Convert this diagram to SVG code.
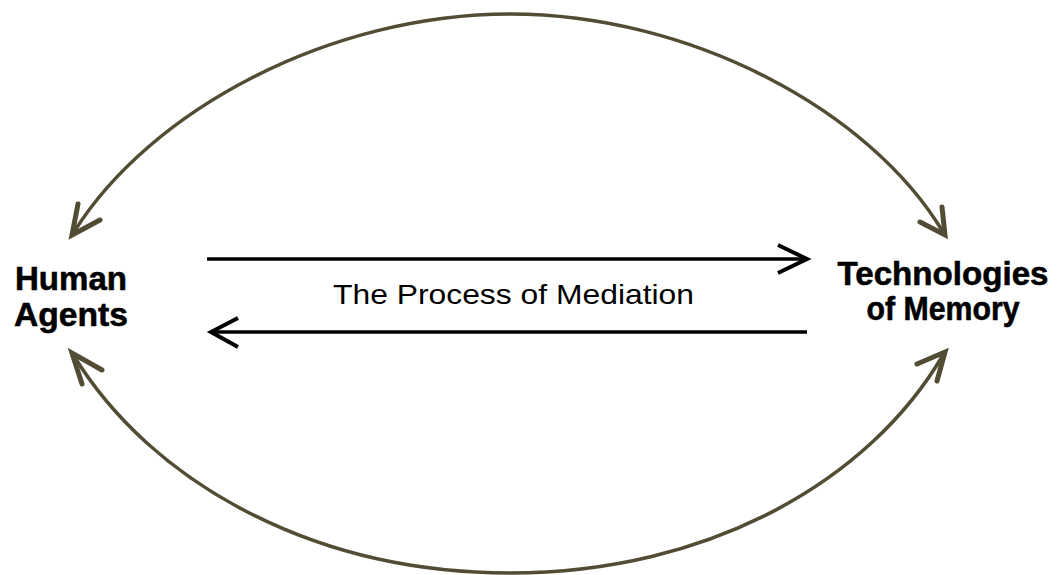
<svg xmlns="http://www.w3.org/2000/svg" width="1058" height="575" viewBox="0 0 1058 575">
<style>
.arc{fill:none;stroke:#514c33;stroke-width:3.5;stroke-linecap:round}
.ahead{fill:none;stroke:#514c33;stroke-width:5;stroke-linecap:round;stroke-linejoin:miter}
.line{fill:none;stroke:#000;stroke-width:3.5}
.head{fill:none;stroke:#000;stroke-width:4;stroke-linecap:butt;stroke-linejoin:miter}
.node{font-family:"Liberation Sans",Arial,sans-serif;font-weight:bold;font-size:34px;fill:#000;stroke:#000;stroke-width:0.6;text-anchor:middle}
.lbl{font-family:"Liberation Sans",Arial,sans-serif;font-size:28px;fill:#000}
</style>
<rect width="1058" height="575" fill="#fff"/>
<g id="connectors">
  <path class="arc" d="M74,232 C150,110 330,14 510,14 C690,14 870,110 943,232"/>
  <polyline class="ahead" points="78,204 72,235 100,220"/>
  <polyline class="ahead" points="920,222 945,235 942,207"/>
  <path class="arc" d="M74,356 C150,480 310,573 510,573 C710,573 870,480 943,355"/>
  <polyline class="ahead" points="102,370 72,353 82,384"/>
  <polyline class="ahead" points="917,364 945,352 937,381"/>
  <line class="line" x1="207" y1="259" x2="806" y2="259"/>
  <polyline class="head" points="778,245 807,259 778,273"/>
  <line class="line" x1="211" y1="332" x2="807" y2="332"/>
  <polyline class="head" points="238,318 211,332 238,347"/>
  <text class="lbl" x="333" y="304" textLength="361" lengthAdjust="spacingAndGlyphs">The Process of Mediation</text>
</g>
<g id="human-agents">
  <text class="node" x="71" y="290" textLength="112" lengthAdjust="spacingAndGlyphs">Human</text>
  <text class="node" x="71" y="326" textLength="114" lengthAdjust="spacingAndGlyphs">Agents</text>
</g>
<g id="technologies-of-memory">
  <text class="node" x="943" y="285" textLength="211" lengthAdjust="spacingAndGlyphs">Technologies</text>
  <text class="node" x="943" y="320" textLength="153" lengthAdjust="spacingAndGlyphs">of Memory</text>
</g>
</svg>
